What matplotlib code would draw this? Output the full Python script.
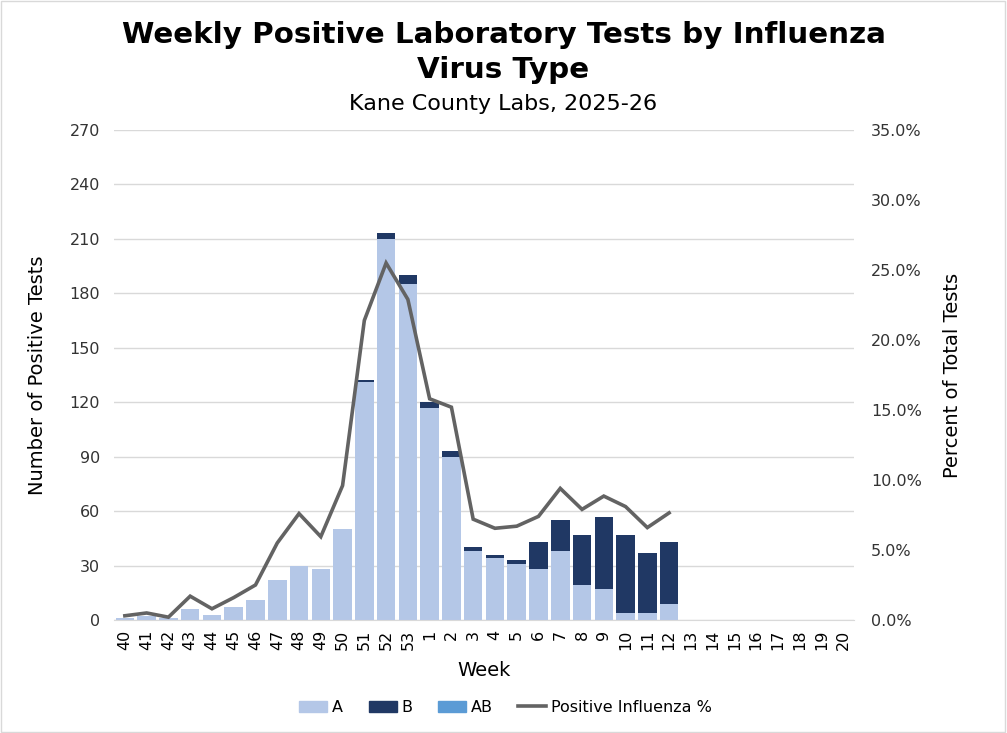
import matplotlib
matplotlib.use("Agg")
import matplotlib.pyplot as plt
from matplotlib.patches import Rectangle, Patch
from matplotlib.lines import Line2D
import numpy as np

weeks = ["40", "41", "42", "43", "44", "45", "46", "47", "48", "49", "50", "51", "52", "53",
         "1", "2", "3", "4", "5", "6", "7", "8", "9", "10", "11", "12",
         "13", "14", "15", "16", "17", "18", "19", "20"]
flu_a = [1, 2, 1, 6, 3, 7, 11, 22, 30, 28, 50, 131, 210, 185, 117, 90, 38, 34, 31, 28, 38, 19, 17, 4, 4, 9,
         0, 0, 0, 0, 0, 0, 0, 0]
flu_b = [0, 0, 0, 0, 0, 0, 0, 0, 0, 0, 0, 1, 3, 5, 3, 3, 2, 2, 2, 15, 17, 28, 40, 43, 33, 34,
         0, 0, 0, 0, 0, 0, 0, 0]
flu_ab = [0] * 34
pct_pos = [0.3, 0.5, 0.2, 1.7, 0.8, 1.6, 2.5, 5.5, 7.6, 5.95, 9.6, 21.4, 25.5, 22.9, 15.8, 15.2,
           7.2, 6.55, 6.7, 7.4, 9.4, 7.9, 8.85, 8.1, 6.6, 7.65]

left_ticks = [0, 30, 60, 90, 120, 150, 180, 210, 240, 270]
right_ticks = [0, 5, 10, 15, 20, 25, 30, 35]

C_A = "#B4C7E7"
C_B = "#203864"
C_AB = "#5B9BD5"
C_LINE = "#636363"
FONT = "DejaVu Sans"
plt.rcParams["font.family"] = FONT

fig = plt.figure(figsize=(10.07, 7.33), dpi=100)
fig.patches.append(Rectangle((0.001, 0.001), 0.997, 0.997, transform=fig.transFigure,
                             fill=False, edgecolor="#D9D9D9", linewidth=1))
ax = fig.add_axes([0.1132, 0.1542, 0.735, 0.6684])

x = np.arange(len(weeks))
a = np.array(flu_a)
b = np.array(flu_b)
abv = np.array(flu_ab)
w = 0.85
ax.bar(x, a, width=w, color=C_A, zorder=2)
ax.bar(x, b, width=w, bottom=a, color=C_B, zorder=2)
ax.bar(x, abv, width=w, bottom=a + b, color=C_AB, zorder=2)

ax.set_xlim(-0.5, len(weeks) - 0.5)
ax.set_ylim(0, 270)
ax.set_yticks(left_ticks)
ax.set_yticklabels([str(t) for t in left_ticks], fontsize=11.5, color="#333333")
ax.set_xticks(x)
ax.set_xticklabels(weeks, rotation=90, fontsize=11.5, color="#000000")
ax.tick_params(axis="x", length=0, pad=7)
ax.tick_params(axis="y", length=0, pad=10)
ax.grid(axis="y", color="#D9D9D9", linewidth=1, zorder=0)
ax.set_axisbelow(True)
for s in ["top", "right", "left"]:
    ax.spines[s].set_visible(False)
ax.spines["bottom"].set_color("#D9D9D9")
ax.spines["bottom"].set_zorder(3)
ax.set_ylabel("Number of Positive Tests", fontsize=14, labelpad=16)
ax.set_xlabel("Week", fontsize=14, labelpad=8)

ax2 = ax.twinx()
ax2.plot(x[:len(pct_pos)], pct_pos, color=C_LINE, linewidth=2.6, solid_joinstyle="miter", zorder=5)
ax2.set_ylim(0, 35)
ax2.set_yticks(right_ticks)
ax2.set_yticklabels([f"{t:.1f}%" for t in right_ticks], fontsize=11.5, color="#333333")
ax2.tick_params(axis="y", length=0, pad=12)
for s in ["top", "right", "left", "bottom"]:
    ax2.spines[s].set_visible(False)
ax2.set_ylabel("Percent of Total Tests", fontsize=14, labelpad=15)

fig.text(0.5, 0.952, "Weekly Positive Laboratory Tests by Influenza", ha="center", va="center",
         fontsize=21.2, fontweight="bold")
fig.text(0.5, 0.905, "Virus Type", ha="center", va="center", fontsize=21.2, fontweight="bold")
fig.text(0.5, 0.858, "Kane County Labs, 2025-26", ha="center", va="center", fontsize=16)

handles = [Patch(color=C_A), Patch(color=C_B), Patch(color=C_AB),
           Line2D([0], [0], color=C_LINE, linewidth=2.6)]
fig.legend(handles, ["A", "B", "AB", "Positive Influenza %"], loc="center",
           bbox_to_anchor=(0.502, 0.035), ncol=4, frameon=False, fontsize=11.5,
           handlelength=1.75, handleheight=0.65, columnspacing=1.6, handletextpad=0.3)

fig.savefig("out.png", dpi=100)
